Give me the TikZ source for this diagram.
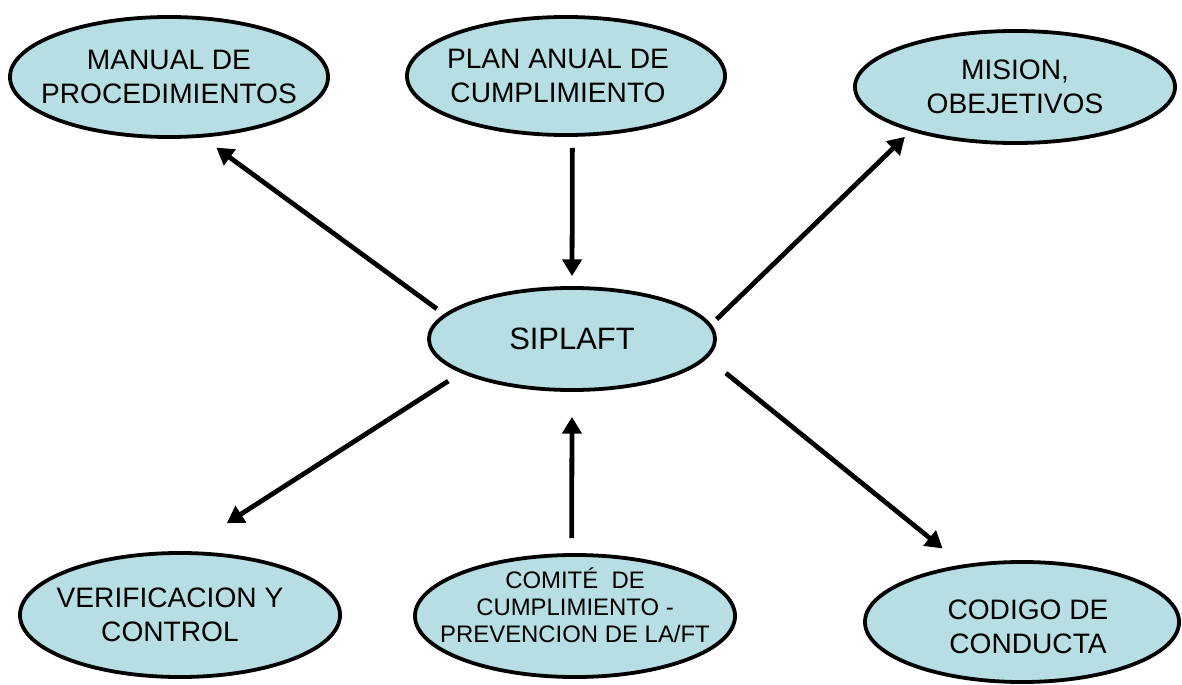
\documentclass[tikz,border=0pt]{standalone}
\usepackage{fontspec}
\setmainfont{Liberation Sans}
\usetikzlibrary{shapes.geometric,arrows.meta}
\definecolor{bubblefill}{RGB}{183,222,227}
\begin{document}
\begin{tikzpicture}[x=0.025cm, y=-0.025cm, every node/.style={font=\fontsize{20}{24.5}\selectfont}]
\tikzset{bubble/.style={ellipse, draw, line width=2.7pt, fill=bubblefill, inner sep=0pt},
  txt/.style={align=center, inner sep=0pt},
  arr/.style={-{Triangle[length=4.2mm,width=4.8mm]}, line width=3.4pt}}
\useasboundingbox (0,0) rectangle (1182,684);
% top row
\node[bubble, minimum width=7.95cm, minimum height=3cm] (manual) at (169,77) {};
\node[txt] (manualtxt) at (manual) {MANUAL DE\\PROCEDIMIENTOS};
\node[bubble, minimum width=7.95cm, minimum height=2.95cm] (plan) at (566,76) {};
\node[txt, xshift=-0.2cm] (plantxt) at (plan) {PLAN ANUAL DE\\CUMPLIMIENTO};
\node[bubble, minimum width=8cm, minimum height=2.8cm] (mision) at (1015,87) {};
\node[txt] (misiontxt) at (mision) {MISION,\\OBEJETIVOS};
% centre
\node[bubble, minimum width=7.15cm, minimum height=2.55cm] (sip) at (572,339) {};
\node[txt, font=\fontsize{22}{26}\selectfont] (siptxt) at (sip) {SIPLAFT};
% bottom row
\node[bubble, minimum width=8cm, minimum height=3.1cm] (verif) at (180,615) {};
\node[txt, xshift=-0.25cm] (veriftxt) at (verif) {VERIFICACION Y\\CONTROL};
\node[bubble, minimum width=8cm, minimum height=3.05cm] (comite) at (575,616) {};
\node[txt, yshift=0.27cm, font=\fontsize{17}{19.3}\selectfont] (comitetxt) at (comite) {COMITÉ\ \ DE\\CUMPLIMIENTO -\\PREVENCION DE LA/FT};
\node[bubble, minimum width=7.85cm, minimum height=3cm] (codigo) at (1022,622) {};
\node[txt, xshift=0.15cm, yshift=-0.12cm] (codigotxt) at (codigo) {CODIGO DE\\CONDUCTA};
% arrows
\draw[arr, shorten <=0.225cm, shorten >=0.425cm] (sip.169) -- (manual.299);
\draw[arr, shorten <=0.275cm, shorten >=0.25cm] (plan.276) -- (sip.90);
\draw[arr, shorten <=0.185cm, shorten >=0.2cm] (sip.6) -- (mision.203);
\draw[arr, shorten <=0.375cm, shorten >=1.29cm] (sip.197) -- (verif.87);
\draw[arr, shorten <=0.375cm, shorten >=0.625cm] (comite.93) -- (sip.270);
\draw[arr, shorten <=0.6cm, shorten >=0.64cm] (sip.352) -- (codigo.136);
\end{tikzpicture}
\end{document}
